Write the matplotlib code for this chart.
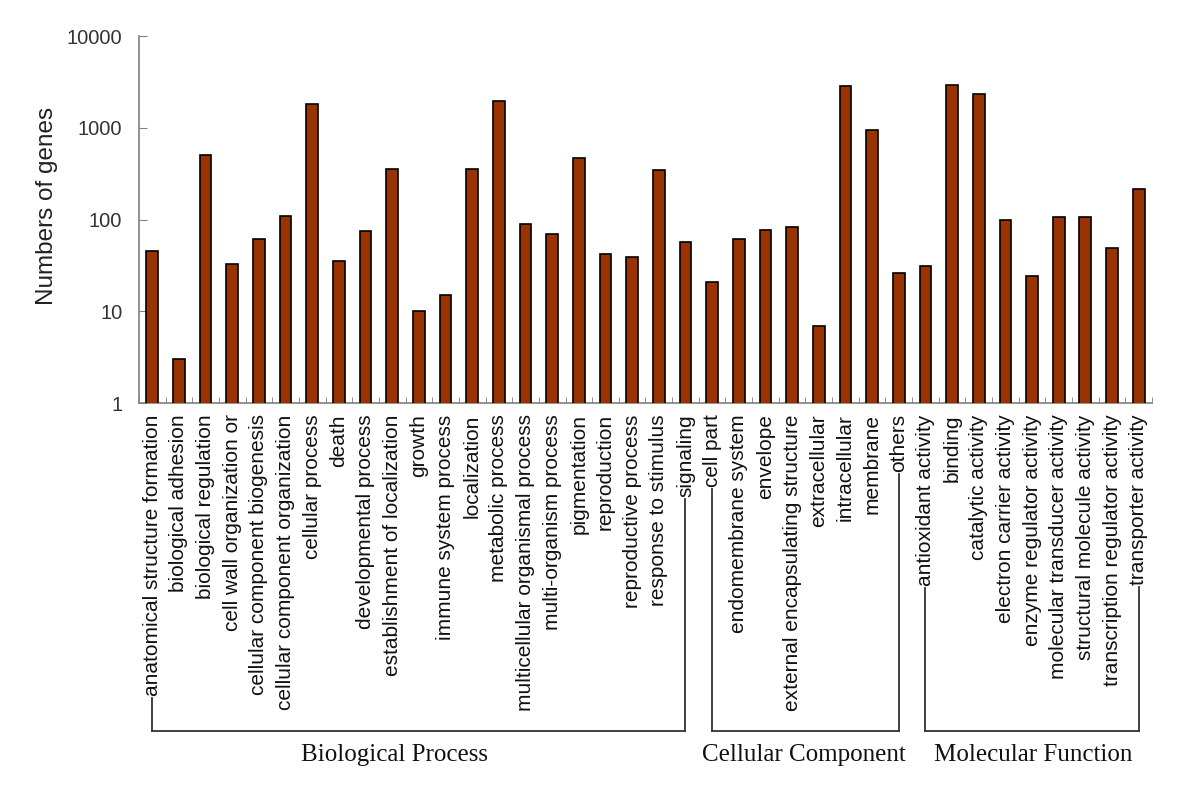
import matplotlib
matplotlib.use("Agg")
import matplotlib.pyplot as plt
from matplotlib.lines import Line2D
import numpy as np

# GO terms and gene counts
bp_terms = ["anatomical structure formation", "biological adhesion", "biological regulation",
            "cell wall organization or", "cellular component biogenesis",
            "cellular component organization", "cellular process", "death",
            "developmental process", "establishment of localization", "growth",
            "immune system process", "localization", "metabolic process",
            "multicellular organismal process", "multi-organism process", "pigmentation",
            "reproduction", "reproductive process", "response to stimulus", "signaling"]
bp_counts = [46, 3, 500, 33, 61, 110, 1830, 35, 76, 356, 10, 15, 356, 1960, 90, 70, 465,
             42, 39, 350, 57]

cc_terms = ["cell part", "endomembrane system", "envelope", "external encapsulating structure",
            "extracellular", "intracellular", "membrane", "others"]
cc_counts = [21, 62, 78, 83, 7, 2870, 950, 26]

mf_terms = ["antioxidant activity", "binding", "catalytic activity", "electron carrier activity",
            "enzyme regulator activity", "molecular transducer activity",
            "structural molecule activity", "transcription regulator activity",
            "transporter activity"]
mf_counts = [31, 2900, 2330, 98, 24, 108, 108, 49, 213]

groups = ["Biological Process", "Cellular Component", "Molecular Function"]

terms = bp_terms + cc_terms + mf_terms
counts = bp_counts + cc_counts + mf_counts
group_sizes = [len(bp_terms), len(cc_terms), len(mf_terms)]
# where each group name sits, in category units (BP label is left of its bracket centre)
group_label_x = [9.1, 24.45, 33.05]

plt.rcParams['font.family'] = ['Liberation Sans', 'DejaVu Sans']

fig = plt.figure(figsize=(12, 8), dpi=100)
ax = fig.add_axes([0.1158, 0.496, 0.8442, 0.459])

x = np.arange(len(terms))
ax.bar(x, counts, width=0.44, color='#993300', edgecolor='black', linewidth=1.2, zorder=3)

ax.set_yscale('log')
ax.set_ylim(1, 10000)
ax.set_xlim(-0.5, len(terms) - 0.5)
ax.set_yticks([1, 10, 100, 1000, 10000])
ax.set_yticklabels(['1', '10', '100', '1000', '10000'])
ax.yaxis.set_minor_locator(matplotlib.ticker.NullLocator())
ax.tick_params(axis='y', labelsize=14.5, length=6, direction='in', pad=12,
               color='#808080', labelcolor='#333333')

ax.set_xticks(x)
ax.set_xticklabels(terms, rotation=90, fontsize=15, color='#111111')
ax.set_xticks(np.arange(len(terms) + 1) - 0.5, minor=True)
ax.tick_params(axis='x', which='major', length=0, pad=8)
ax.tick_params(axis='x', which='minor', length=4, direction='in', color='#808080')

ax.set_ylabel('Numbers of genes', fontsize=17.5, color='#222222')
ax.yaxis.set_label_coords(-0.08, 0.537)

for s in ['top', 'right']:
    ax.spines[s].set_visible(False)
for s in ['left', 'bottom']:
    ax.spines[s].set_color('#808080')
    ax.spines[s].set_linewidth(1.2)

# brackets under the tick labels for each GO category
fig.canvas.draw()
renderer = fig.canvas.get_renderer()
labels = ax.get_xticklabels()
inv = fig.transFigure.inverted()
line_y = 1 - 731 / 800
start = 0
for name, n, lx in zip(groups, group_sizes, group_label_x):
    i0, i1 = start, start + n - 1
    xs = []
    for i in (i0, i1):
        bb = labels[i].get_window_extent(renderer)
        fx, top = inv.transform((ax.transData.transform((x[i], 1))[0], bb.y0 - 2))
        xs.append(fx)
        fig.add_artist(Line2D([fx, fx], [top, line_y], color='#333333', lw=1.3,
                              transform=fig.transFigure))
    fig.add_artist(Line2D([xs[0], xs[1]], [line_y, line_y], color='#333333', lw=1.3,
                          transform=fig.transFigure))
    tx = inv.transform(ax.transData.transform((lx, 1)))[0]
    fig.text(tx, line_y - 0.016, name, ha='center', va='top',
             fontsize=18, family=['Liberation Serif', 'DejaVu Serif'], color='#111111')
    start += n

fig.savefig('out.png', dpi=100)
